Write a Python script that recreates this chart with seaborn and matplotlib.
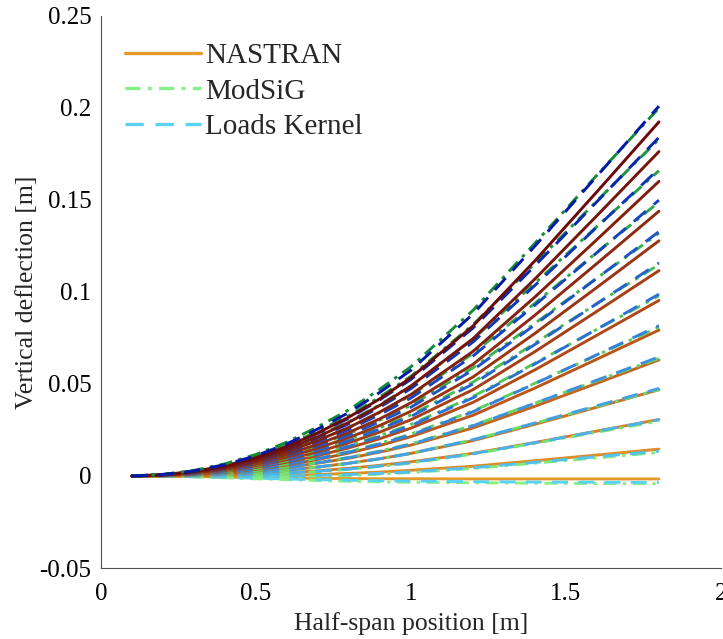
import numpy as np
import pandas as pd
import matplotlib
matplotlib.use("Agg")
import matplotlib.pyplot as plt
from matplotlib.colors import LinearSegmentedColormap
from matplotlib.lines import Line2D
import seaborn as sns

# spanwise stations [m]
span_x = [0.1, 0.2, 0.3, 0.4, 0.5, 0.6, 0.7, 0.8, 0.9, 1.0, 1.2, 1.4, 1.6, 1.8]

# vertical deflection [m], one row per load case
nastran_defl = [
    [0, -0.0001, -0.0003, -0.0006, -0.0009, -0.0011, -0.0013, -0.0014, -0.0015, -0.0015, -0.0016, -0.0016, -0.0016, -0.0016],
    [0, 0.0000, -0.0001, -0.0001, 0.0000, 0.0003, 0.0008, 0.0014, 0.0021, 0.0031, 0.0053, 0.0083, 0.0114, 0.0146],
    [0, 0.0000, 0.0002, 0.0004, 0.0009, 0.0018, 0.0028, 0.0042, 0.0058, 0.0077, 0.0123, 0.0182, 0.0244, 0.0307],
    [0, 0.0001, 0.0004, 0.0009, 0.0018, 0.0032, 0.0049, 0.0070, 0.0094, 0.0123, 0.0192, 0.0281, 0.0374, 0.0469],
    [0, 0.0002, 0.0006, 0.0014, 0.0027, 0.0046, 0.0070, 0.0097, 0.0130, 0.0168, 0.0261, 0.0379, 0.0504, 0.0631],
    [0, 0.0002, 0.0009, 0.0019, 0.0036, 0.0060, 0.0090, 0.0125, 0.0166, 0.0214, 0.0330, 0.0478, 0.0635, 0.0793],
    [0, 0.0003, 0.0011, 0.0025, 0.0046, 0.0075, 0.0111, 0.0153, 0.0203, 0.0260, 0.0400, 0.0577, 0.0765, 0.0954],
    [0, 0.0004, 0.0013, 0.0030, 0.0055, 0.0089, 0.0132, 0.0181, 0.0239, 0.0306, 0.0469, 0.0676, 0.0895, 0.1116],
    [0, 0.0004, 0.0016, 0.0035, 0.0064, 0.0103, 0.0152, 0.0209, 0.0275, 0.0352, 0.0538, 0.0775, 0.1025, 0.1278],
    [0, 0.0005, 0.0018, 0.0040, 0.0073, 0.0117, 0.0173, 0.0237, 0.0311, 0.0398, 0.0607, 0.0874, 0.1155, 0.1439],
    [0, 0.0006, 0.0020, 0.0045, 0.0082, 0.0132, 0.0194, 0.0264, 0.0348, 0.0443, 0.0677, 0.0973, 0.1285, 0.1601],
    [0, 0.0006, 0.0023, 0.0050, 0.0091, 0.0146, 0.0214, 0.0292, 0.0384, 0.0489, 0.0746, 0.1071, 0.1415, 0.1763],
    [0, 0.0007, 0.0025, 0.0055, 0.0100, 0.0160, 0.0235, 0.0320, 0.0420, 0.0535, 0.0815, 0.1170, 0.1545, 0.1924],
]

modsig_defl = [
    [0, -0.0001, -0.0005, -0.0010, -0.0015, -0.0020, -0.0025, -0.0029, -0.0032, -0.0034, -0.0037, -0.0039, -0.0041, -0.0042],
    [0, 0.0000, -0.0002, -0.0004, -0.0004, -0.0003, -0.0001, 0.0003, 0.0010, 0.0019, 0.0041, 0.0070, 0.0099, 0.0128],
    [0, 0.0001, 0.0001, 0.0003, 0.0007, 0.0014, 0.0024, 0.0036, 0.0052, 0.0071, 0.0119, 0.0178, 0.0238, 0.0298],
    [0, 0.0002, 0.0004, 0.0009, 0.0018, 0.0031, 0.0048, 0.0068, 0.0094, 0.0123, 0.0197, 0.0287, 0.0378, 0.0469],
    [0, 0.0002, 0.0007, 0.0015, 0.0029, 0.0048, 0.0073, 0.0101, 0.0136, 0.0175, 0.0275, 0.0396, 0.0518, 0.0639],
    [0, 0.0003, 0.0010, 0.0022, 0.0040, 0.0065, 0.0097, 0.0133, 0.0178, 0.0228, 0.0353, 0.0504, 0.0657, 0.0809],
    [0, 0.0004, 0.0013, 0.0028, 0.0051, 0.0082, 0.0122, 0.0166, 0.0220, 0.0280, 0.0432, 0.0613, 0.0797, 0.0979],
    [0, 0.0005, 0.0015, 0.0034, 0.0062, 0.0099, 0.0146, 0.0198, 0.0262, 0.0332, 0.0510, 0.0722, 0.0937, 0.1149],
    [0, 0.0006, 0.0018, 0.0041, 0.0073, 0.0116, 0.0170, 0.0230, 0.0304, 0.0385, 0.0588, 0.0830, 0.1076, 0.1319],
    [0, 0.0007, 0.0021, 0.0047, 0.0084, 0.0133, 0.0195, 0.0263, 0.0346, 0.0437, 0.0666, 0.0939, 0.1216, 0.1489],
    [0, 0.0007, 0.0024, 0.0053, 0.0095, 0.0150, 0.0219, 0.0295, 0.0388, 0.0489, 0.0744, 0.1048, 0.1356, 0.1659],
    [0, 0.0008, 0.0027, 0.0060, 0.0106, 0.0167, 0.0244, 0.0328, 0.0430, 0.0542, 0.0822, 0.1156, 0.1495, 0.1830],
    [0, 0.0009, 0.0030, 0.0066, 0.0117, 0.0184, 0.0268, 0.0360, 0.0472, 0.0594, 0.0900, 0.1265, 0.1635, 0.2000],
]

loadskernel_defl = [
    [0, -0.0001, -0.0004, -0.0008, -0.0012, -0.0016, -0.0020, -0.0023, -0.0026, -0.0028, -0.0031, -0.0033, -0.0034, -0.0035],
    [0, 0.0000, -0.0001, -0.0002, -0.0002, 0.0000, 0.0003, 0.0008, 0.0014, 0.0022, 0.0045, 0.0074, 0.0105, 0.0135],
    [0, 0.0001, 0.0001, 0.0004, 0.0008, 0.0016, 0.0026, 0.0038, 0.0054, 0.0073, 0.0121, 0.0181, 0.0243, 0.0306],
    [0, 0.0001, 0.0004, 0.0010, 0.0019, 0.0032, 0.0049, 0.0069, 0.0094, 0.0123, 0.0197, 0.0288, 0.0382, 0.0476],
    [0, 0.0002, 0.0007, 0.0015, 0.0029, 0.0048, 0.0072, 0.0100, 0.0134, 0.0173, 0.0273, 0.0395, 0.0521, 0.0647],
    [0, 0.0003, 0.0009, 0.0021, 0.0039, 0.0064, 0.0095, 0.0130, 0.0174, 0.0223, 0.0349, 0.0502, 0.0659, 0.0817],
    [0, 0.0004, 0.0012, 0.0027, 0.0049, 0.0080, 0.0118, 0.0161, 0.0215, 0.0274, 0.0425, 0.0609, 0.0798, 0.0988],
    [0, 0.0004, 0.0015, 0.0033, 0.0059, 0.0095, 0.0141, 0.0192, 0.0255, 0.0324, 0.0500, 0.0715, 0.0937, 0.1158],
    [0, 0.0005, 0.0017, 0.0039, 0.0069, 0.0111, 0.0164, 0.0222, 0.0295, 0.0374, 0.0576, 0.0822, 0.1075, 0.1328],
    [0, 0.0006, 0.0020, 0.0045, 0.0080, 0.0127, 0.0187, 0.0253, 0.0335, 0.0424, 0.0652, 0.0929, 0.1214, 0.1499],
    [0, 0.0007, 0.0023, 0.0050, 0.0090, 0.0143, 0.0210, 0.0284, 0.0375, 0.0475, 0.0728, 0.1036, 0.1353, 0.1669],
    [0, 0.0007, 0.0025, 0.0056, 0.0100, 0.0159, 0.0233, 0.0314, 0.0415, 0.0525, 0.0804, 0.1143, 0.1491, 0.1840],
    [0, 0.0008, 0.0028, 0.0062, 0.0110, 0.0175, 0.0256, 0.0345, 0.0455, 0.0575, 0.0880, 0.1250, 0.1630, 0.2010],
]

solver_names = ["NASTRAN", "ModSiG", "Loads Kernel"]
x_ticks = [0, 0.5, 1, 1.5, 2]
y_ticks = [-0.05, 0, 0.05, 0.1, 0.15, 0.2, 0.25]

sns.set_style("white")
plt.rcParams["font.family"] = ["Liberation Serif", "DejaVu Serif"]
plt.rcParams["axes.unicode_minus"] = False

cmaps = {
    "NASTRAN": LinearSegmentedColormap.from_list("n", ["#e59a2c", "#b04a18", "#6c0a0a"]),
    "ModSiG": LinearSegmentedColormap.from_list("m", ["#86f086", "#52c858", "#13893a"]),
    "Loads Kernel": LinearSegmentedColormap.from_list("l", ["#5ad2f2", "#2f72d6", "#0018a6"]),
}
styles = {
    "NASTRAN": "-",
    "ModSiG": (0, (4.5, 2.2, 1.2, 2.2)),
    "Loads Kernel": (0, (5.5, 3.5)),
}
data = {"NASTRAN": nastran_defl, "ModSiG": modsig_defl, "Loads Kernel": loadskernel_defl}

fig = plt.figure(figsize=(7.23, 6.39), dpi=100)
ax = fig.add_axes([0.1397, 0.1111, 0.8575, 0.864])

n_cases = len(nastran_defl)
for i in range(n_cases):
    frac = i / (n_cases - 1)
    for name in solver_names:
        sns.lineplot(x=span_x, y=data[name][i], ax=ax, color=cmaps[name](frac),
                     linestyle=styles[name], linewidth=2.1, sort=False)

ax.set_xlim(0, 2)
ax.set_ylim(-0.05, 0.25)
ax.set_xticks(x_ticks)
ax.set_yticks(y_ticks)
ax.set_xticklabels([f"{v:g}" for v in x_ticks])
ax.set_yticklabels([f"{v:g}" for v in y_ticks])
ax.tick_params(direction="in", length=6, width=0.8, labelsize=18, colors="#404040",
               labelcolor="black")
ax.tick_params(axis="x", pad=11)
ax.tick_params(axis="y", pad=7)
for side in ("top", "right"):
    ax.spines[side].set_visible(False)
for side in ("left", "bottom"):
    ax.spines[side].set_color("#505050")
    ax.spines[side].set_linewidth(0.8)

ax.set_xlabel("Half-span position [m]", fontsize=18.5, labelpad=5)
ax.set_ylabel("Vertical deflection [m]", fontsize=18.5, labelpad=1)

handles = [Line2D([], [], color=cmaps[n](0.0), linestyle=styles[n], linewidth=2.4) for n in solver_names]
ax.legend(handles, solver_names, loc="upper left", frameon=False, fontsize=21,
          handlelength=2.6, handletextpad=0.15, labelspacing=0.32,
          bbox_to_anchor=(0.039, 0.952), borderaxespad=0.0, borderpad=0.0)

fig.savefig("out.png", dpi=100)
